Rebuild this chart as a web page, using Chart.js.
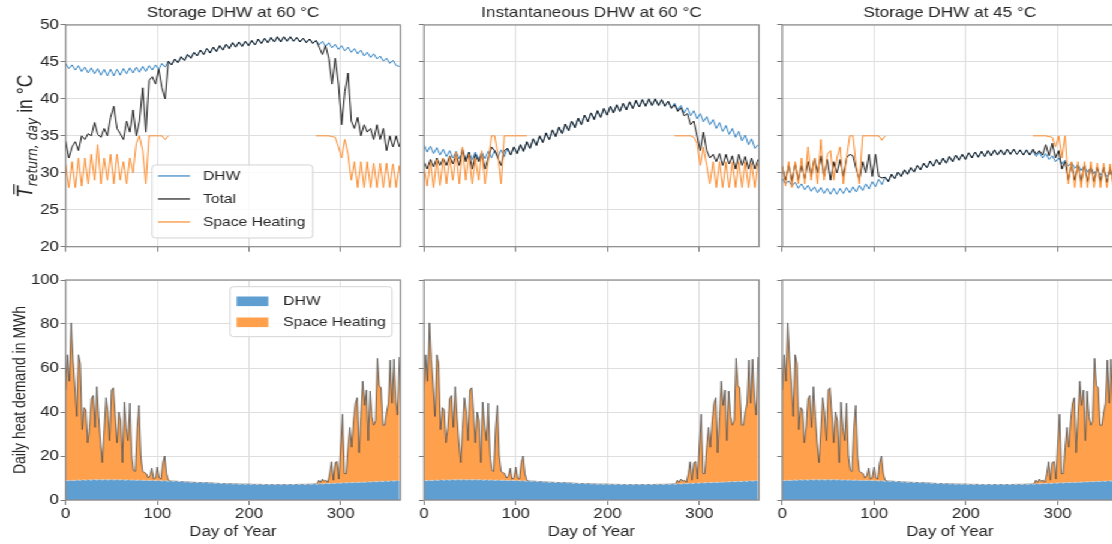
<!DOCTYPE html>
<html>
<head>
<meta charset="utf-8">
<script src="https://cdn.jsdelivr.net/npm/chart.js@4.4.0/dist/chart.umd.min.js"></script>
<style>
  body { margin: 0; background: #fff; width: 1112px; height: 544px; overflow: hidden; position: relative; }
  /* the figure is drawn narrower and stretched sideways, like the reference */
  #fig { position: absolute; left: 0; top: 0; width: 927px; height: 544px; transform: scaleX(1.2); transform-origin: 0 0; }
  #fig canvas { position: absolute; }
</style>
</head>
<body>
<div id="fig"></div>
<script>
// day of year for the return temperature curves (every 3.5 days)
const days = [
  0, 3.5, 7, 10.5, 14, 17.5, 21, 24.5, 28, 31.5,
  35, 38.5, 42, 45.5, 49, 52.5, 56, 59.5, 63, 66.5,
  70, 73.5, 77, 80.5, 84, 87.5, 91, 94.5, 98, 101.5,
  105, 108.5, 112, 115.5, 119, 122.5, 126, 129.5, 133, 136.5,
  140, 143.5, 147, 150.5, 154, 157.5, 161, 164.5, 168, 171.5,
  175, 178.5, 182, 185.5, 189, 192.5, 196, 199.5, 203, 206.5,
  210, 213.5, 217, 220.5, 224, 227.5, 231, 234.5, 238, 241.5,
  245, 248.5, 252, 255.5, 259, 262.5, 266, 269.5, 273, 276.5,
  280, 283.5, 287, 290.5, 294, 297.5, 301, 304.5, 308, 311.5,
  315, 318.5, 322, 325.5, 329, 332.5, 336, 339.5, 343, 346.5,
  350, 353.5, 357, 360.5, 364
];

// Storage DHW at 60 °C
const dhwStorage60 = [
  44.8, 44.1, 44.6, 43.9, 44.5, 43.7, 44.3, 43.5, 44.2, 43.4,
  44.1, 43.2, 44.0, 43.1, 44.0, 43.1, 44.0, 43.2, 44.1, 43.4,
  44.2, 43.5, 44.3, 43.6, 44.4, 43.7, 44.5, 43.9, 44.6, 44.0,
  44.8, 44.3, 45.1, 44.6, 45.4, 44.9, 45.7, 45.2, 46.0, 45.5,
  46.3, 45.8, 46.6, 46.0, 46.8, 46.2, 47.0, 46.4, 47.2, 46.6,
  47.4, 46.8, 47.6, 47.0, 47.7, 47.1, 47.8, 47.2, 47.9, 47.3,
  48.1, 47.5, 48.2, 47.6, 48.3, 47.7, 48.4, 47.7, 48.4, 47.8,
  48.4, 47.8, 48.3, 47.7, 48.2, 47.6, 48.1, 47.5, 47.9, 47.3,
  47.8, 47.1, 47.6, 46.9, 47.4, 46.7, 47.2, 46.5, 47.0, 46.3,
  46.8, 46.1, 46.6, 45.8, 46.3, 45.6, 46.1, 45.4, 45.8, 45.1,
  45.5, 44.8, 45.2, 44.5, 44.4
];
const totalStorage60 = [
  34.3, 32.0, 33.5, 34.2, 33.0, 35.0, 34.5, 35.3, 35.0, 36.8,
  35.2, 34.8, 36.0, 35.0, 37.5, 39.0, 36.0, 35.3, 34.5, 37.0,
  35.5, 38.5, 35.0, 37.0, 41.5, 35.5, 42.5, 43.0, 42.0, 44.0,
  41.5, 40.0, 45.1, 44.6, 45.4, 44.9, 45.7, 45.2, 46.0, 45.5,
  46.3, 45.8, 46.6, 46.0, 46.8, 46.2, 47.0, 46.4, 47.2, 46.6,
  47.4, 46.8, 47.6, 47.0, 47.7, 47.1, 47.8, 47.2, 47.9, 47.3,
  48.1, 47.5, 48.2, 47.6, 48.3, 47.7, 48.4, 47.7, 48.4, 47.8,
  48.4, 47.8, 48.3, 47.7, 48.2, 47.6, 48.1, 47.5, 47.9, 47.0,
  46.0, 47.2, 45.5, 42.0, 45.5, 42.0, 36.5, 41.0, 43.5, 37.0,
  36.0, 37.5, 35.0, 36.5, 35.5, 36.0, 34.5, 36.5, 34.5, 36.0,
  33.0, 35.0, 33.5, 35.0, 33.5
];
const shStorage60 = [
  31.2, 28.0, 31.5, 28.0, 32.0, 28.2, 32.0, 28.5, 32.5, 29.0,
  33.8, 28.5, 32.0, 29.0, 32.5, 28.5, 32.5, 29.0, 31.5, 28.5,
  32.0, 30.0, 34.0, 35.0, 33.0, 28.5, 35.0, 35.0, 35.0, 35.0,
  35.0, 34.5, 35.0, null, null, null, null, null, null, null,
  null, null, null, null, null, null, null, null, null, null,
  null, null, null, null, null, null, null, null, null, null,
  null, null, null, null, null, null, null, null, null, null,
  null, null, null, null, null, null, null, null, 35.0, 35.0,
  35.0, 35.0, 35.0, 34.9, 34.8, 33.5, 32.0, 34.5, 32.5, 29.0,
  31.5, 28.0, 31.5, 28.0, 31.5, 28.0, 31.3, 28.0, 31.3, 28.0,
  31.3, 28.0, 31.2, 28.0, 31.0
];

// Instantaneous DHW at 60 °C
const dhwInstant60 = [
  33.8, 32.8, 33.6, 32.6, 33.4, 32.4, 33.2, 32.2, 33.0, 32.0,
  32.9, 31.9, 32.8, 31.8, 32.8, 31.8, 32.8, 31.8, 32.8, 31.9,
  32.9, 32.0, 33.0, 32.1, 33.1, 32.2, 33.3, 32.4, 33.5, 32.6,
  33.8, 32.9, 34.2, 33.3, 34.6, 33.7, 35.0, 34.1, 35.4, 34.5,
  35.8, 34.9, 36.2, 35.3, 36.6, 35.7, 37.0, 36.1, 37.4, 36.5,
  37.8, 36.9, 38.1, 37.2, 38.4, 37.5, 38.7, 37.8, 39.0, 38.1,
  39.2, 38.3, 39.4, 38.5, 39.6, 38.7, 39.8, 38.9, 39.9, 39.0,
  40.0, 39.1, 40.0, 39.1, 39.9, 39.0, 39.7, 38.8, 39.4, 38.5,
  39.1, 38.1, 38.8, 37.7, 38.4, 37.3, 38.0, 36.9, 37.6, 36.5,
  37.2, 36.0, 36.8, 35.6, 36.4, 35.2, 36.0, 34.8, 35.6, 34.3,
  35.1, 33.8, 34.6, 33.3, 33.8
];
const totalInstant60 = [
  31.5, 30.5, 31.8, 30.8, 32.0, 31.0, 32.0, 31.0, 32.3, 31.2,
  32.5, 31.0, 33.3, 31.5, 32.8, 30.5, 32.5, 31.5, 32.5, 30.5,
  32.0, 33.5, 33.0, 32.0, 31.0, 33.0, 33.3, 32.4, 33.5, 32.6,
  33.8, 32.9, 34.2, 33.3, 34.6, 33.7, 35.0, 34.1, 35.4, 34.5,
  35.8, 34.9, 36.2, 35.3, 36.6, 35.7, 37.0, 36.1, 37.4, 36.5,
  37.8, 36.9, 38.1, 37.2, 38.4, 37.5, 38.7, 37.8, 39.0, 38.1,
  39.2, 38.3, 39.4, 38.5, 39.6, 38.7, 39.8, 38.9, 39.9, 39.0,
  40.0, 39.1, 40.0, 39.1, 39.9, 39.0, 39.7, 38.7, 39.2, 38.3,
  38.8, 37.7, 38.0, 36.5, 37.0, 35.0, 33.0, 35.5, 33.0, 32.0,
  32.5, 31.5, 32.6, 31.0, 32.5, 31.2, 32.3, 30.5, 32.5, 31.0,
  32.2, 30.5, 32.0, 30.5, 31.8
];
const shInstant60 = [
  30.8, 28.2, 31.5, 28.0, 31.8, 28.3, 32.0, 28.5, 32.2, 29.0,
  32.8, 28.5, 33.5, 29.0, 32.5, 28.5, 32.0, 29.0, 33.0, 28.5,
  31.5, 35.0, 35.0, 32.5, 28.5, 35.0, 35.0, 35.0, 35.0, 35.0,
  35.0, 35.0, 35.0, null, null, null, null, null, null, null,
  null, null, null, null, null, null, null, null, null, null,
  null, null, null, null, null, null, null, null, null, null,
  null, null, null, null, null, null, null, null, null, null,
  null, null, null, null, null, null, null, null, 35.0, 35.0,
  35.0, 35.0, 35.0, 35.0, 34.8, 34.0, 31.0, 33.5, 31.0, 28.5,
  31.5, 28.0, 31.5, 28.0, 31.5, 28.0, 31.5, 28.0, 31.5, 28.0,
  31.5, 28.0, 31.3, 28.0, 31.3
];

// Storage DHW at 45 °C
const dhwStorage45 = [
  29.2, 28.5, 28.9, 28.2, 28.7, 27.9, 28.5, 27.7, 28.3, 27.5,
  28.1, 27.3, 28.0, 27.2, 27.9, 27.1, 27.9, 27.1, 27.9, 27.2,
  28.0, 27.3, 28.1, 27.4, 28.3, 27.6, 28.5, 27.8, 28.8, 28.1,
  29.1, 28.4, 29.4, 28.8, 29.8, 29.2, 30.1, 29.5, 30.4, 29.8,
  30.7, 30.1, 31.0, 30.4, 31.3, 30.7, 31.6, 30.9, 31.8, 31.1,
  32.0, 31.3, 32.2, 31.5, 32.4, 31.7, 32.5, 31.8, 32.7, 32.0,
  32.8, 32.1, 32.9, 32.2, 33.0, 32.3, 33.1, 32.4, 33.1, 32.4,
  33.2, 32.5, 33.2, 32.5, 33.1, 32.4, 33.1, 32.4, 33.0, 32.2,
  32.8, 32.0, 32.6, 31.8, 32.3, 31.5, 32.0, 31.2, 31.7, 30.9,
  31.4, 30.6, 31.1, 30.3, 30.9, 30.1, 30.7, 29.9, 30.5, 29.7,
  30.3, 29.5, 30.1, 29.3, 29.8
];
const totalStorage45 = [
  30.8, 29.0, 31.0, 28.8, 31.2, 29.0, 31.0, 29.2, 31.5, 29.5,
  32.0, 30.0, 32.3, 29.5, 31.8, 29.0, 31.5, 30.0, 31.8, 29.5,
  32.0, 32.5, 32.3, 30.5, 29.0, 31.5, 30.0, 32.5, 29.5, 32.5,
  29.5, 29.3, 29.4, 28.8, 29.8, 29.2, 30.1, 29.5, 30.4, 29.8,
  30.7, 30.1, 31.0, 30.4, 31.3, 30.7, 31.6, 30.9, 31.8, 31.1,
  32.0, 31.3, 32.2, 31.5, 32.4, 31.7, 32.5, 31.8, 32.7, 32.0,
  32.8, 32.1, 32.9, 32.2, 33.0, 32.3, 33.1, 32.4, 33.1, 32.4,
  33.2, 32.5, 33.2, 32.5, 33.1, 32.4, 33.1, 32.4, 33.2, 32.5,
  33.0, 32.4, 33.8, 32.3, 34.0, 32.0, 33.0, 30.5, 31.5, 29.0,
  31.2, 29.0, 31.0, 28.8, 31.0, 28.8, 31.0, 28.8, 30.8, 28.8,
  30.8, 28.7, 30.8, 28.7, 30.5
];
const shStorage45 = [
  31.0, 28.2, 31.5, 28.0, 31.5, 28.5, 32.0, 28.5, 33.5, 29.0,
  32.0, 28.5, 34.5, 29.0, 32.5, 33.0, 29.0, 32.0, 33.5, 28.5,
  32.0, 35.0, 35.0, 31.0, 28.5, 35.0, 35.0, 35.0, 35.0, 35.0,
  35.0, 34.4, 35.0, null, null, null, null, null, null, null,
  null, null, null, null, null, null, null, null, null, null,
  null, null, null, null, null, null, null, null, null, null,
  null, null, null, null, null, null, null, null, null, null,
  null, null, null, null, null, null, null, null, 35.0, 35.0,
  35.0, 35.0, 35.0, 34.9, 34.8, 33.5, 35.0, 32.0, 35.0, 28.5,
  31.5, 28.0, 31.5, 28.0, 31.5, 28.0, 31.5, 28.0, 31.3, 28.0,
  31.3, 28.0, 31.2, 28.0, 31.0
];

// daily heat demand (MWh), same buildings in all three cases
const demandDays = [
  0, 2, 4, 6, 8, 10, 12, 14, 16, 18,
  20, 22, 24, 26, 28, 30, 32, 34, 36, 38,
  40, 42, 44, 46, 48, 50, 52, 54, 56, 58,
  60, 62, 64, 66, 68, 70, 72, 74, 76, 78,
  80, 82, 84, 86, 88, 90, 92, 94, 96, 98,
  100, 102, 104, 106, 108, 110, 112, 114,
  121, 128, 135, 142, 149, 156, 163, 170, 177, 184,
  191, 198, 205, 212, 219, 226, 233, 240, 247, 254, 261, 268,
  270, 272, 274, 276, 278, 280, 282, 284, 286, 288,
  290, 292, 294, 296, 298, 300, 302, 304, 306, 308,
  310, 312, 314, 316, 318, 320, 322, 324, 326, 328,
  330, 332, 334, 336, 338, 340, 342, 344, 346, 348,
  350, 352, 354, 356, 358, 360, 362, 364
];
const dhwDemand = [
  8.8, 8.9, 8.7, 8.9, 9.0, 8.8, 9.0, 9.1, 8.9, 9.1,
  9.2, 9.0, 9.1, 9.2, 9.0, 9.2, 9.3, 9.1, 9.2, 9.3,
  9.1, 9.2, 9.3, 9.1, 9.2, 9.3, 9.1, 9.2, 9.3, 9.1,
  9.2, 9.2, 9.0, 9.1, 9.2, 9.0, 9.1, 9.1, 8.9, 9.0,
  9.1, 8.9, 9.0, 9.0, 8.8, 8.9, 9.0, 8.8, 8.9, 8.9,
  8.7, 8.8, 8.8, 8.6, 8.7, 8.7, 8.5, 8.6,
  8.5, 8.3, 8.1, 8.0, 7.9, 7.8, 7.6, 7.5, 7.4, 7.3,
  7.2, 7.2, 7.1, 7.1, 7.0, 7.0, 7.0, 7.0, 7.0, 7.1, 7.1, 7.2,
  7.2, 7.3, 7.2, 7.3, 7.4, 7.3, 7.4, 7.5, 7.4, 7.5,
  7.6, 7.5, 7.6, 7.7, 7.6, 7.7, 7.8, 7.7, 7.8, 7.9,
  7.8, 7.9, 8.0, 7.9, 8.0, 8.1, 8.0, 8.1, 8.2, 8.1,
  8.2, 8.3, 8.2, 8.3, 8.4, 8.3, 8.4, 8.5, 8.4, 8.5,
  8.6, 8.5, 8.6, 8.7, 8.6, 8.7, 8.8, 8.8
];
// DHW + space heating (top of the orange area)
const totalDemand = [
  50, 66, 54, 80.5, 64, 52, 38, 66, 62, 32,
  42, 41, 26, 33, 46, 47.5, 33, 51.5, 38, 26,
  17, 32, 46.5, 40, 27, 50, 51, 39, 26, 40,
  36, 17, 44.5, 33, 27, 44, 20, 13.5, 13, 33,
  43, 20, 13, 12.5, 12, 10, 11, 14.5, 9.5, 10,
  15, 10, 9.5, 17, 20, 12, 9, 8.6,
  8.5, 8.3, 8.1, 8.0, 7.9, 7.8, 7.6, 7.5, 7.4, 7.3,
  7.2, 7.2, 7.1, 7.1, 7.0, 7.0, 7.0, 7.0, 7.0, 7.1, 7.1, 7.2,
  7.2, 7.3, 7.2, 9.0, 8.0, 9.5, 8.5, 9.0, 8.0, 12,
  17.4, 9, 17, 17.5, 9.5, 25, 39, 12, 12, 24,
  33, 24, 36, 44, 46.5, 21.5, 38, 54, 43, 50,
  27, 49.5, 38, 34, 36, 64.4, 52, 51, 34, 34,
  40, 44, 63.6, 44, 64, 45.5, 38.6, 65
];

const TEXT = '#262626';
const GRID = '#dedede';
const TICK = '#7a7a7a';
const FRAME = '#8a8a8a';
const C_DHW = '#3584c2';
const C_SH = '#fb8b2c';
const C_TOT = '#1a1a1a';
const FILL_DHW = '#5f9ed1';
const FILL_SH = '#ffa04c';

Chart.defaults.font.family = "'Liberation Sans', Arial, sans-serif";
Chart.defaults.color = TEXT;

// grey box all round the plot area
const frame = {
  id: 'frame',
  afterDatasetsDraw(chart) {
    const { ctx, chartArea: a } = chart;
    ctx.save();
    ctx.strokeStyle = FRAME;
    ctx.lineWidth = 1.2;
    ctx.strokeRect(a.left, a.top, a.right - a.left, a.bottom - a.top);
    ctx.restore();
  }
};

// legend drawn inside the plot, taken from the datasets
const boxLegend = {
  id: 'boxLegend',
  afterDraw(chart, args, o) {
    if (!o.show) return;
    const ctx = chart.ctx;
    const a = chart.chartArea;
    const x = a.left + o.dx, y = a.top + o.dy;
    ctx.save();
    ctx.beginPath();
    ctx.roundRect(x, y, o.w, o.h, 3);
    ctx.fillStyle = 'rgba(255,255,255,0.85)';
    ctx.fill();
    ctx.strokeStyle = '#d4d4d4';
    ctx.lineWidth = 1;
    ctx.stroke();
    ctx.font = "13px 'Liberation Sans', Arial, sans-serif";
    ctx.textBaseline = 'middle';
    chart.data.datasets.forEach((ds, i) => {
      const cy = y + o.first + i * o.step;
      if (o.boxes) {
        ctx.fillStyle = ds.backgroundColor;
        ctx.fillRect(x + 5.5, cy - 4.8, 26.4, 9.6);
      } else {
        ctx.strokeStyle = ds.borderColor;
        ctx.lineWidth = 1.2;
        ctx.beginPath();
        ctx.moveTo(x + 5, cy);
        ctx.lineTo(x + 31.6, cy);
        ctx.stroke();
      }
      ctx.fillStyle = TEXT;
      ctx.fillText(ds.label, x + o.tx, cy);
    });
    ctx.restore();
  }
};

// y label with bar and subscript: T̄ return,day in °C
const tempLabel = {
  id: 'tempLabel',
  afterDraw(chart, args, o) {
    if (!o.show) return;
    const { ctx, chartArea: a } = chart;
    const fMain = "italic 17.5px 'DejaVu Sans'";
    const fSub = "italic 12.3px 'DejaVu Sans'";
    const fText = "17.5px 'Liberation Sans', Arial, sans-serif";
    ctx.save();
    ctx.font = fMain; const wT = ctx.measureText('T').width;
    ctx.font = fSub; const wS = ctx.measureText('return, day').width;
    ctx.font = fText; const wP = ctx.measureText(' in °C').width;
    ctx.translate(o.x, (a.top + a.bottom) / 2);
    ctx.rotate(-Math.PI / 2);
    ctx.fillStyle = TEXT;
    ctx.textBaseline = 'alphabetic';
    let p = -(wT + wS + wP) / 2;
    ctx.font = fMain;
    ctx.fillText('T', p, 0);
    ctx.fillRect(p + 2.6, -15.7, wT - 0.5, 1.2);
    p += wT;
    ctx.font = fSub;
    ctx.fillText('return, day', p, 3.9);
    p += wS;
    ctx.font = fText;
    ctx.fillText(' in °C', p, 0);
    ctx.restore();
  }
};

Chart.register(frame, boxLegend, tempLabel);

const fig = document.getElementById('fig');
// position of each column of panels (drawing is stretched 1.2x sideways)
const columns = [
  { left: 0, width: 343, yw: 54.7, padR: 9.4 },
  { left: 343, width: 300, yw: 10.3, padR: 10.5 },
  { left: 642, width: 300, yw: 9.9, padR: 10.8 }
];

function makeCanvas(col, top, height) {
  const c = document.createElement('canvas');
  c.width = col.width;
  c.height = height;
  c.style.left = col.left + 'px';
  c.style.top = top + 'px';
  fig.appendChild(c);
  return c;
}

function xScale(showLabels, height) {
  return {
    type: 'linear', min: 0, max: 365,
    ticks: { display: showLabels, stepSize: 100, includeBounds: false, font: { size: 14 }, padding: 1, maxRotation: 0 },
    grid: { color: GRID, lineWidth: 1, tickLength: 5, tickColor: TICK },
    border: { display: false },
    title: { display: showLabels, text: 'Day of Year', font: { size: 14 }, padding: { top: 0, bottom: 3 } },
    afterFit: s => { s.height = height; }
  };
}

function yScale(col, min, max, step, showLabels, title) {
  return {
    type: 'linear', min: min, max: max,
    ticks: { display: showLabels, stepSize: step, font: { size: 14 }, padding: 1.5 },
    grid: { color: GRID, lineWidth: 1, tickLength: 4.2, tickColor: TICK },
    border: { display: false },
    title: { display: !!title, text: title || '', font: { size: 14 }, padding: { top: 8.5, bottom: 0 } },
    afterFit: s => { s.width = col.yw; }
  };
}

function tempChart(col, title, dhw, total, sh, first) {
  new Chart(makeCanvas(col, 0, 260), {
    type: 'line',
    data: {
      labels: days,
      datasets: [
        { label: 'DHW', data: dhw, borderColor: C_DHW, borderWidth: 1, pointRadius: 0, order: 3 },
        { label: 'Total', data: total, borderColor: C_TOT, borderWidth: 1, pointRadius: 0, order: 2 },
        { label: 'Space Heating', data: sh, borderColor: C_SH, borderWidth: 1, pointRadius: 0, order: 1, spanGaps: false }
      ]
    },
    options: {
      responsive: false,
      animation: false,
      layout: { padding: { left: 0, right: col.padR, top: 0, bottom: 0 } },
      plugins: {
        legend: { display: false },
        tooltip: { enabled: false },
        title: { display: true, text: title, fullSize: false, font: { size: 14.3, weight: 'normal' }, color: TEXT, padding: { top: 4.6, bottom: 3.2 } },
        boxLegend: { show: first, dx: 72, dy: 140, w: 134, h: 73, first: 11, step: 23, tx: 42.5 },
        tempLabel: { show: first, x: 26.7 }
      },
      scales: {
        x: xScale(false, 13.3),
        y: yScale(col, 20, 50, 5, first)
      }
    }
  });
}

function demandChart(col, first) {
  new Chart(makeCanvas(col, 260, 284), {
    type: 'line',
    data: {
      labels: demandDays,
      datasets: [
        { label: 'DHW', data: dhwDemand, borderColor: 'rgba(215,215,215,0.9)', borderDash: [3, 2], borderWidth: 1,
          backgroundColor: FILL_DHW, fill: 'origin', pointRadius: 0 },
        { label: 'Space Heating', data: totalDemand, borderColor: '#4a4a4a', borderWidth: 0.8,
          backgroundColor: FILL_SH, fill: '-1', pointRadius: 0 }
      ]
    },
    options: {
      responsive: false,
      animation: false,
      layout: { padding: { left: 0, right: col.padR, top: 20, bottom: 0 } },
      plugins: {
        legend: { display: false },
        tooltip: { enabled: false },
        boxLegend: { show: first, boxes: true, dx: 137, dy: 6.7, w: 135, h: 50, first: 14.6, step: 21, tx: 44.4 }
      },
      scales: {
        x: xScale(true, 44),
        y: yScale(col, 0, 100, 20, first, first ? 'Daily heat demand in MWh' : '')
      }
    }
  });
}

tempChart(columns[0], 'Storage DHW at 60 °C', dhwStorage60, totalStorage60, shStorage60, true);
tempChart(columns[1], 'Instantaneous DHW at 60 °C', dhwInstant60, totalInstant60, shInstant60, false);
tempChart(columns[2], 'Storage DHW at 45 °C', dhwStorage45, totalStorage45, shStorage45, false);
demandChart(columns[0], true);
demandChart(columns[1], false);
demandChart(columns[2], false);
</script>
</body>
</html>
